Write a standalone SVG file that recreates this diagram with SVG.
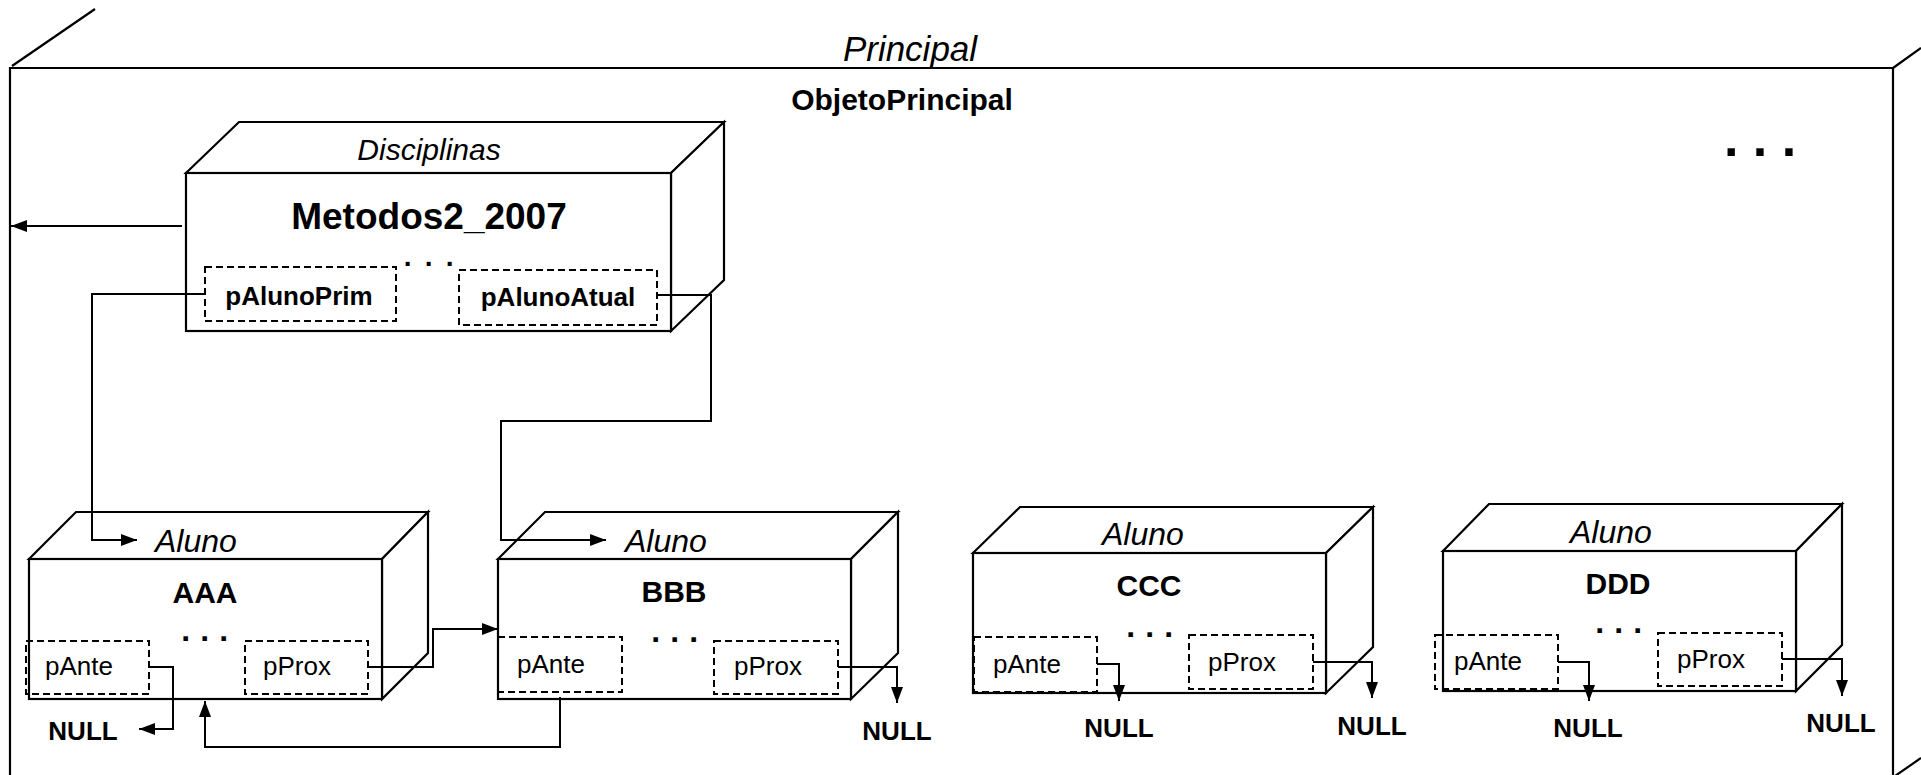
<svg xmlns="http://www.w3.org/2000/svg" width="1921" height="775" viewBox="0 0 1921 775">
<defs>
<marker id="ah" viewBox="0 0 16 12" refX="16" refY="6" markerWidth="16" markerHeight="12" markerUnits="userSpaceOnUse" orient="auto">
<path d="M0,0 L16,6 L0,12 Z" fill="#000"/>
</marker>
<style>
.bx{fill:#fff;stroke:#000;stroke-width:2.2;stroke-linejoin:miter}
.fr{fill:none;stroke:#000;stroke-width:2.2}
.ds{fill:none;stroke:#000;stroke-width:2;stroke-dasharray:7 4}
.cn{fill:none;stroke:#000;stroke-width:2}
.ar{marker-end:url(#ah)}
text{font-family:"Liberation Sans",Arial,sans-serif;fill:#000}
.it{font-style:italic;font-size:32px}
.nm{font-weight:bold;font-size:30px;text-anchor:middle}
.fl{font-size:26px}
.nl{font-weight:bold;font-size:26px;text-anchor:middle}
.dt{font-weight:bold;font-size:32px;text-anchor:middle;letter-spacing:0.6px}
</style>
</defs>
<rect width="1921" height="775" fill="#fff"/>

<g id="principal">
<path class="fr" d="M10,775 V68 H1893 V775"/>
<line class="fr" x1="12" y1="66" x2="95" y2="9"/>
<line class="fr" x1="1893" y1="68" x2="1921" y2="48"/>
<line class="fr" x1="1895" y1="776" x2="1921" y2="758"/>
<text x="910" y="61" class="it" style="font-size:35px" text-anchor="middle">Principal</text>
<text x="902" y="110" style="font-weight:bold;font-size:30px" text-anchor="middle">ObjetoPrincipal</text>
<text x="1760" y="156" class="dt" style="font-size:52px;letter-spacing:0">. . .</text>
</g>

<g id="metodos">
<polygon class="bx" points="186,173 239,122 724,122 671,173"/>
<polygon class="bx" points="671,173 724,122 724,280 671,331"/>
<rect class="bx" x="186" y="173" width="485" height="158"/>
<text x="429" y="160" class="it" style="font-size:30px" text-anchor="middle">Disciplinas</text>
<text x="429" y="229" class="nm" style="font-size:37px">Metodos2_2007</text>
<text x="430" y="266" class="dt" style="font-size:28px;letter-spacing:2.7px">. . .</text>
<rect class="ds" x="205" y="267" width="191" height="54"/>
<text x="299" y="305" class="nl">pAlunoPrim</text>
<rect class="ds" x="459" y="270" width="198" height="55"/>
<text x="558" y="306" class="nl">pAlunoAtual</text>
</g>

<g id="aaa">
<polygon class="bx" points="29,559 76,512 428,512 382,559"/>
<polygon class="bx" points="382,559 428,512 428,653 382,699"/>
<rect class="bx" x="29" y="559" width="353" height="140"/>
<text x="155" y="552" class="it">Aluno</text>
<text x="205" y="603" class="nm">AAA</text>
<text x="205" y="641" class="dt">. . .</text>
<rect class="ds" x="26" y="641" width="123" height="53"/>
<text x="45" y="675" class="fl">pAnte</text>
<rect class="ds" x="245" y="641" width="123" height="53"/>
<text x="263" y="675" class="fl">pProx</text>
</g>

<g id="bbb">
<polygon class="bx" points="498,559 545,512 898,512 851,559"/>
<polygon class="bx" points="851,559 898,512 898,653 851,699"/>
<rect class="bx" x="498" y="559" width="353" height="140"/>
<text x="625" y="552" class="it">Aluno</text>
<text x="674" y="602" class="nm">BBB</text>
<text x="675" y="642" class="dt">. . .</text>
<rect class="ds" x="498" y="637" width="124" height="55"/>
<text x="517" y="673" class="fl">pAnte</text>
<rect class="ds" x="714" y="641" width="124" height="53"/>
<text x="734" y="675" class="fl">pProx</text>
</g>

<g id="ccc">
<polygon class="bx" points="973,553 1020,507 1373,507 1326,553"/>
<polygon class="bx" points="1326,553 1373,507 1373,647 1326,693"/>
<rect class="bx" x="973" y="553" width="353" height="140"/>
<text x="1102" y="545" class="it">Aluno</text>
<text x="1149" y="596" class="nm">CCC</text>
<text x="1150" y="637" class="dt">. . .</text>
<rect class="ds" x="974" y="637" width="123" height="55"/>
<text x="993" y="673" class="fl">pAnte</text>
<rect class="ds" x="1189" y="635" width="124" height="54"/>
<text x="1208" y="671" class="fl">pProx</text>
</g>

<g id="ddd">
<polygon class="bx" points="1443,551 1489,504 1842,504 1796,551"/>
<polygon class="bx" points="1796,551 1842,504 1842,645 1796,691"/>
<rect class="bx" x="1443" y="551" width="353" height="140"/>
<text x="1570" y="543" class="it">Aluno</text>
<text x="1618" y="594" class="nm">DDD</text>
<text x="1619" y="633" class="dt">. . .</text>
<rect class="ds" x="1435" y="635" width="123" height="54"/>
<text x="1454" y="670" class="fl">pAnte</text>
<rect class="ds" x="1658" y="633" width="124" height="53"/>
<text x="1677" y="668" class="fl">pProx</text>
</g>

<g id="nulls">
<text x="83" y="740" class="nl">NULL</text>
<text x="897" y="740" class="nl">NULL</text>
<text x="1119" y="737" class="nl">NULL</text>
<text x="1372" y="735" class="nl">NULL</text>
<text x="1588" y="737" class="nl">NULL</text>
<text x="1841" y="732" class="nl">NULL</text>
</g>

<g id="connectors">
<path class="cn ar" d="M182,226 H11"/>
<path class="cn ar" d="M205,294 H92 V540 H137"/>
<path class="cn ar" d="M657,295 H711 V421 H501 V540 H606"/>
<path class="cn ar" d="M149,667 H173 V729 H139"/>
<path class="cn ar" d="M368,667 H433 V629 H498"/>
<path class="cn ar" d="M560,697 V747 H205 V701"/>
<path class="cn ar" d="M838,667 H897 V703"/>
<path class="cn ar" d="M1097,664 H1119 V701"/>
<path class="cn ar" d="M1313,662 H1372 V698"/>
<path class="cn ar" d="M1558,662 H1589 V701"/>
<path class="cn ar" d="M1782,659 H1842 V696"/>
</g>
</svg>
